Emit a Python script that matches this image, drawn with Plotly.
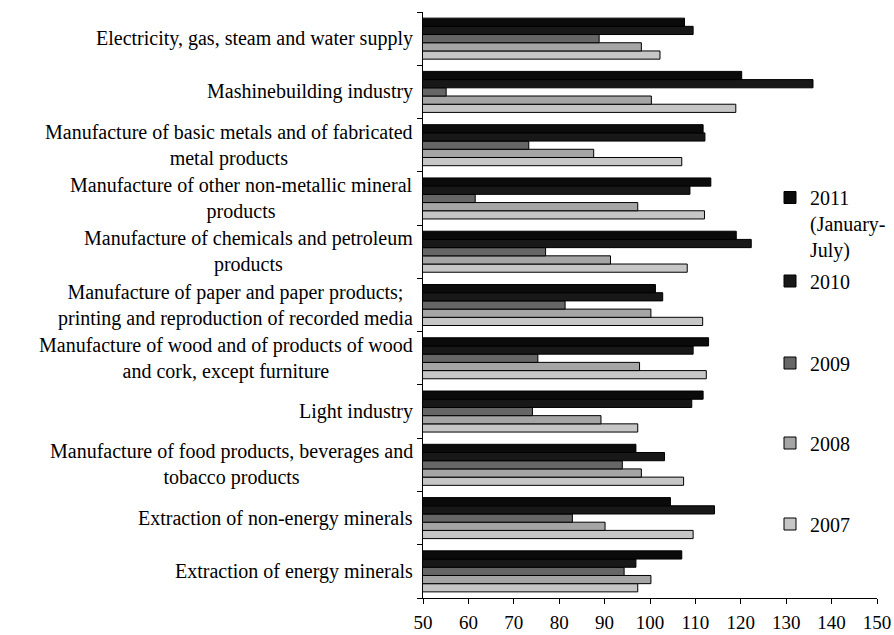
import plotly.graph_objects as go

# Categories listed top to bottom as in the chart
categories = [
    "Electricity, gas, steam and water supply",
    "Mashinebuilding industry",
    "Manufacture of basic metals and of fabricated<br>metal products",
    "Manufacture of other non-metallic mineral<br>products",
    "Manufacture of chemicals and petroleum<br>products",
    "Manufacture of paper and paper products;<br>printing and reproduction of recorded media",
    "Manufacture of wood and of products of wood<br>and cork, except furniture",
    "Light industry",
    "Manufacture of food products, beverages and<br>tobacco products",
    "Extraction of non-energy minerals",
    "Extraction of energy minerals",
]

v2011 = [107.6, 120.2, 111.7, 113.4, 119.0, 101.2, 112.9, 111.7, 96.9, 104.5, 107.0]
v2010 = [109.5, 135.9, 112.1, 108.8, 122.3, 102.8, 109.5, 109.2, 103.2, 114.2, 96.9]
v2009 = [88.8, 55.1, 73.3, 61.5, 77.0, 81.3, 75.3, 74.1, 93.9, 82.9, 94.3]
v2008 = [98.1, 100.3, 87.6, 97.3, 91.3, 100.2, 97.7, 89.2, 98.1, 90.1, 100.2]
v2007 = [102.2, 118.9, 107.0, 112.0, 108.2, 111.6, 112.4, 97.3, 107.4, 109.5, 97.3]

series_names = ["2007", "2008", "2009", "2010", "2011<br>(January-<br>July)"]
series_values = [v2007, v2008, v2009, v2010, v2011]
series_colors = ["#c6c6c6", "#a5a5a5", "#666666", "#181818", "#0b0b0b"]

FONT = "Liberation Serif"
FS = 20

fig = go.Figure()
legend_ids = ["legend5", "legend4", "legend3", "legend2", "legend"]
for name, vals, col, lg in zip(series_names, series_values, series_colors, legend_ids):
    fig.add_trace(go.Bar(
        y=categories, x=vals, orientation="h", name=name,
        marker=dict(color=col, line=dict(color="black", width=1)),
        legend=lg, showlegend=True,
    ))

# Plot area: x 423..877, y 12..598 (px)
W, H = 894, 635
ml, mr, mt, mb = 423, 17, 12, 37
pw, ph = W - ml - mr, H - mt - mb

def py(y):
    return (H - mb - y) / ph

def px(x):
    return (x - ml) / pw

legend_common = dict(font=dict(family=FONT, size=FS, color="black"),
                     bgcolor="rgba(0,0,0,0)", borderwidth=0,
                     xanchor="left", x=px(770))
layout_legends = {
    "legend": dict(legend_common, y=py(178), yanchor="top", valign="top"),
    "legend2": dict(legend_common, y=py(281), yanchor="middle"),
    "legend3": dict(legend_common, y=py(363), yanchor="middle"),
    "legend4": dict(legend_common, y=py(443), yanchor="middle"),
    "legend5": dict(legend_common, y=py(524), yanchor="middle"),
}

annotations = [
    dict(x=0, xref="paper", y=c, yref="y", text=c, showarrow=False,
         xanchor="right", xshift=-8, align="center",
         font=dict(family=FONT, size=FS, color="black"))
    for c in categories
]

fig.update_layout(
    width=W, height=H,
    showlegend=True,
    margin=dict(l=ml, r=mr, t=mt, b=mb, pad=0, autoexpand=False),
    barmode="group", bargap=0.23, bargroupgap=0,
    plot_bgcolor="white", paper_bgcolor="white",
    font=dict(family=FONT, size=FS, color="black"),
    annotations=annotations,
    **layout_legends,
)
fig.update_xaxes(range=[50, 150], dtick=10, tick0=50, showgrid=False,
                 showline=True, linecolor="black", linewidth=1,
                 ticks="outside", ticklen=5, tickcolor="black",
                 ticklabelstandoff=2, automargin=False,
                 tickfont=dict(family=FONT, size=19, color="black"),
                 zeroline=False)
fig.update_yaxes(categoryorder="array", categoryarray=categories[::-1],
                 showgrid=False, showline=True, linecolor="black", linewidth=1,
                 ticks="outside", ticklen=5, tickcolor="black", automargin=False,
                 tickson="boundaries", showticklabels=False)

fig.write_html("out.html",
               config={"displayModeBar": False},
               post_script="document.body.style.margin='0';"
                           "document.body.style.overflow='hidden';")
